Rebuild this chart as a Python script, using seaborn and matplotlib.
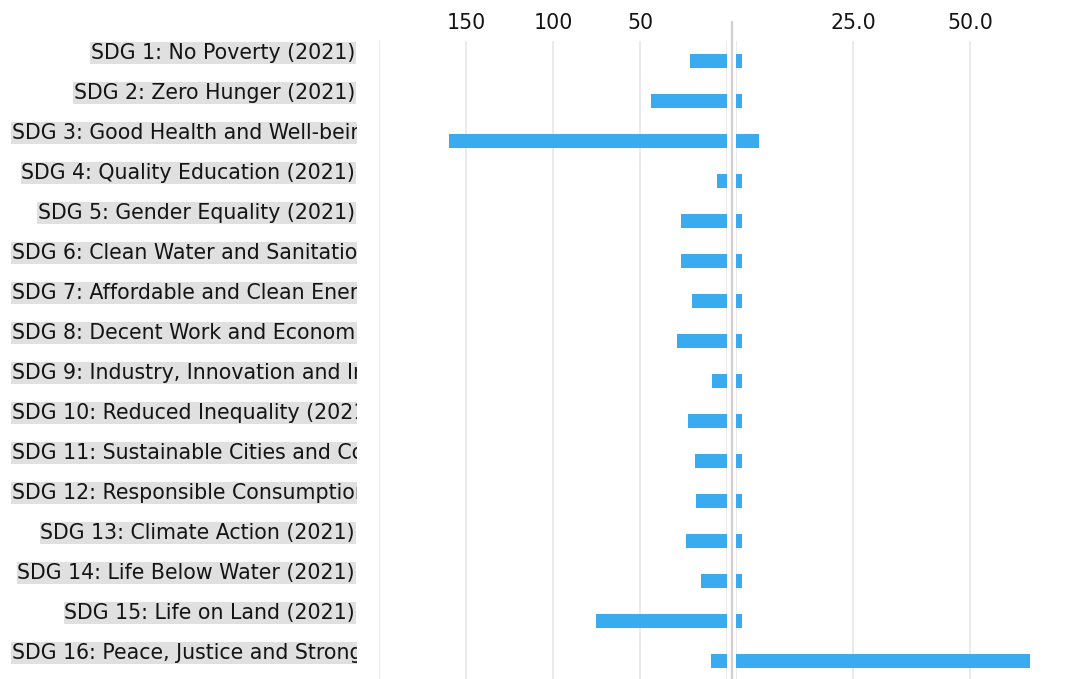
"""
SDG butterfly bar chart (two panels sharing the goal axis)
"""

import pandas as pd
import matplotlib.pyplot as plt
import seaborn as sns
from matplotlib.lines import Line2D

# Data
goals = [
    'SDG 1: No Poverty (2021)',
    'SDG 2: Zero Hunger (2021)',
    'SDG 3: Good Health and Well-being (2021)',
    'SDG 4: Quality Education (2021)',
    'SDG 5: Gender Equality (2021)',
    'SDG 6: Clean Water and Sanitation (2021)',
    'SDG 7: Affordable and Clean Energy (2021)',
    'SDG 8: Decent Work and Economic Growth (2021)',
    'SDG 9: Industry, Innovation and Infrastructure (2021)',
    'SDG 10: Reduced Inequality (2021)',
    'SDG 11: Sustainable Cities and Communities (2021)',
    'SDG 12: Responsible Consumption and Production (2021)',
    'SDG 13: Climate Action (2021)',
    'SDG 14: Life Below Water (2021)',
    'SDG 15: Life on Land (2021)',
    'SDG 16: Peace, Justice and Strong Institutions (2021)',
]
left_values = [21.3, 43.8, 159.7, 5.9, 26.5, 26.5, 20.4, 28.8,
               8.5, 22.3, 18.6, 18.1, 23.3, 15.2, 75.3, 9.4]
right_values = [1.2, 1.2, 5.0, 1.2, 1.2, 1.2, 1.2, 1.2,
                1.2, 1.2, 1.2, 1.2, 1.2, 1.2, 1.2, 62.8]
left_ticks = [200, 150, 100, 50, 0]
left_ticklabels = ['', '150', '100', '50', '']
right_ticks = [0, 25, 50, 75]
right_ticklabels = ['', '25.0', '50.0', '']

df = pd.DataFrame({'goal': goals, 'left': left_values, 'right': right_values})

sns.set_style('white')
plt.rcParams['font.family'] = ['DejaVu Sans']

BAR = '#3babf0'
GRID = '#e6e6e6'
TXT = '#141414'
FS = 14.8

W, H = 1074, 679
fig = plt.figure(figsize=(W / 100, H / 100), dpi=100)

top_px, bot_px = 41, 681
ax_bottom = (H - bot_px) / H
ax_height = (bot_px - top_px) / H

ax_l = fig.add_axes([379 / W, ax_bottom, 348 / W, ax_height])
ax_r = fig.add_axes([736 / W, ax_bottom, 351 / W, ax_height])
ax_t = fig.add_axes([10 / W, ax_bottom, 347 / W, ax_height])

sns.barplot(data=df, x='left', y='goal', ax=ax_l, color=BAR,
            width=0.33, orient='h', linewidth=0, saturation=1)
sns.barplot(data=df, x='right', y='goal', ax=ax_r, color=BAR,
            width=0.33, orient='h', linewidth=0, saturation=1)

ax_l.set_xlim(200, 0)
ax_r.set_xlim(0, 75)
ax_l.set_xticks(left_ticks, left_ticklabels)
ax_r.set_xticks(right_ticks, right_ticklabels)

for ax in (ax_l, ax_r):
    ax.set_ylim(len(goals) - 0.5, -0.5)
    ax.set_xlabel('')
    ax.set_ylabel('')
    ax.set_yticks([])
    ax.xaxis.tick_top()
    ax.tick_params(axis='x', length=0, pad=5.5, labelsize=FS, labelcolor=TXT)
    ax.grid(axis='x', color=GRID, linewidth=1.2)
    ax.set_axisbelow(True)
    ax.patch.set_alpha(0)
    sns.despine(ax=ax, left=True, bottom=True, top=True, right=True)

# divider between the two panels
fig.add_artist(Line2D([732 / W, 732 / W], [0, 1 - 22 / H],
                      transform=fig.transFigure, color='#cfcfcf', linewidth=1.6))

# goal labels with a grey highlight, clipped to the label column
ax_t.set_xlim(0, 1)
ax_t.set_ylim(len(goals) - 0.5, -0.5)
ax_t.axis('off')
renderer = fig.canvas.get_renderer()
for i, name in enumerate(goals):
    t = ax_t.text(1 - 2 / 347, i - 0.2, name, ha='right', va='center',
                  fontsize=FS, color=TXT, clip_on=True,
                  bbox=dict(boxstyle='square,pad=0.03', fc='#e0e0e0', ec='none'))
    w = t.get_window_extent(renderer).width
    if w > 343:
        t.set_x(2 / 347)
        t.set_ha('left')

fig.savefig('out.png', dpi=100)
